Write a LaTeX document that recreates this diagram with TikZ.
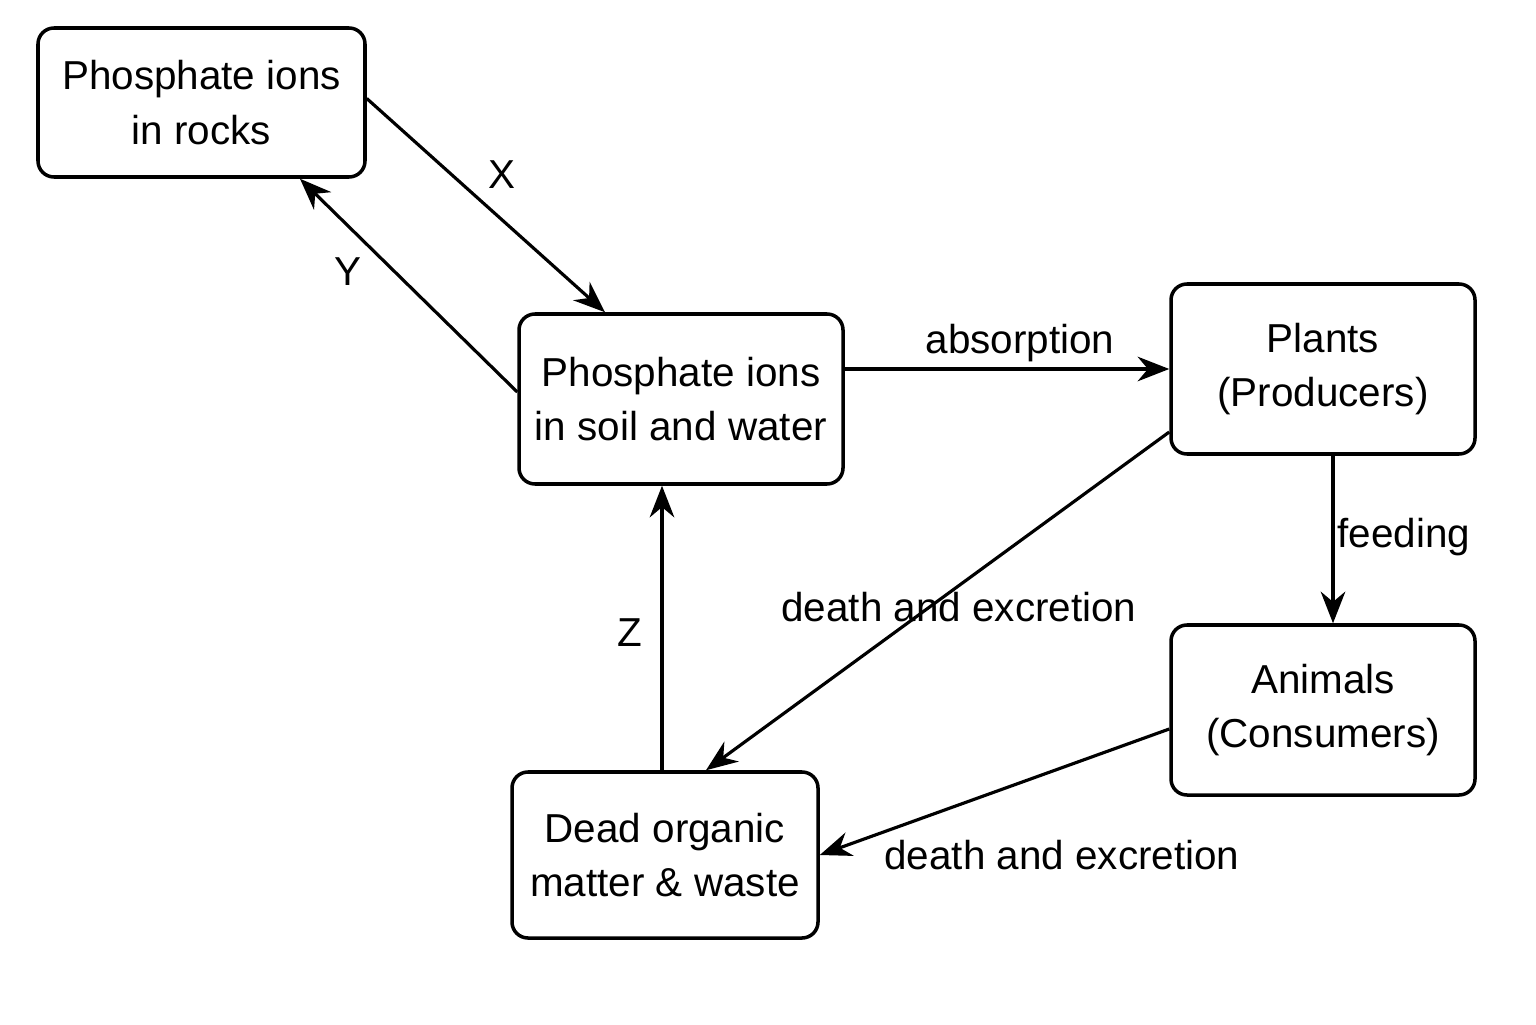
\documentclass[tikz,border=0pt]{standalone}
\usepackage{fontspec}
\setmainfont{Liberation Sans}
\usetikzlibrary{arrows.meta}

\begin{document}
\begin{tikzpicture}[
	box/.style={draw, line width=1pt, rounded corners=0.16cm, align=center, font=\fontsize{11.5}{15.5}\selectfont},
	flow/.style={line width=0.9pt, -{Stealth[length=9pt, width=7pt]}},
	lbl/.style={font=\fontsize{11.5}{14}\selectfont}
]
	\useasboundingbox (0, 0) rectangle (15.36, 10.24);

	\node [box, minimum width=3.27cm, minimum height=1.49cm] (rocks) at (2.015, 9.215) {Phosphate ions\\in rocks};
	\node [box, minimum width=3.24cm, minimum height=1.70cm] (soil) at (6.81, 6.25) {Phosphate ions\\in soil and water};
	\node [box, minimum width=3.04cm, minimum height=1.70cm] (plants) at (13.23, 6.55) {Plants\\(Producers)};
	\node [box, minimum width=3.04cm, minimum height=1.70cm] (animals) at (13.23, 3.14) {Animals\\(Consumers)};
	\node [box, minimum width=3.06cm, minimum height=1.66cm] (dead) at (6.65, 1.69) {Dead organic\\matter \& waste};

	\draw [flow] ([yshift=0.04cm]rocks.east) -- ([xshift=-0.76cm]soil.north);
	\draw [flow] ([yshift=0.07cm]soil.west) -- ([xshift=0.985cm]rocks.south);
	\draw [flow] (soil.east |- plants.west) -- (plants.west);
	\draw [flow] ([xshift=0.1cm]plants.south) -- ([xshift=0.1cm]animals.north);
	\draw [flow] ([yshift=-0.63cm]plants.west) -- ([xshift=0.41cm]dead.north);
	\draw [flow] ([yshift=-0.19cm]animals.west) -- (dead.east);
	\draw [flow] ([xshift=-0.03cm]dead.north) -- ([xshift=-0.03cm]dead.north |- soil.south);

	\node [lbl] (lx) at (5.02, 8.49) {X};
	\node [lbl] (ly) at (3.48, 7.52) {Y};
	\node [lbl] (lz) at (6.30, 3.91) {Z};
	\node [lbl] (labs) at (10.20, 6.81) {absorption};
	\node [lbl] (lfeed) at (14.04, 4.87) {feeding};
	\node [lbl] (ldeath1) at (9.59, 4.17) {death and excretion};
	\node [lbl] (ldeath2) at (10.62, 1.69) {death and excretion};
\end{tikzpicture}
\end{document}
